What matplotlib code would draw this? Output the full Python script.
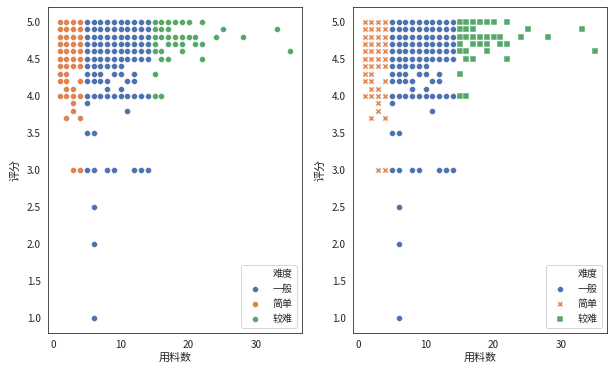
import matplotlib
matplotlib.use("Agg")
import matplotlib.pyplot as plt
from matplotlib.lines import Line2D
import seaborn as sns

# rating -> ingredient counts, one dict per difficulty level
easy_rows = {
    5.0: [1, 2, 3, 4], 4.9: [1, 2, 3, 4], 4.8: [1, 2, 3, 4], 4.7: [1, 2, 3, 4],
    4.6: [1, 2, 3, 4], 4.5: [1, 2, 3, 4], 4.4: [1, 2, 3, 4], 4.3: [1, 2],
    4.2: [1, 2, 4], 4.1: [2, 3], 4.0: [1, 2, 3, 4], 3.9: [3], 3.8: [3],
    3.7: [2, 4], 3.0: [3, 4],
}
normal_rows = {
    5.0: [5, 6, 7, 8, 9, 10, 11, 12, 13, 14],
    4.9: [5, 6, 7, 8, 9, 10, 11, 12, 13, 14],
    4.8: [5, 6, 7, 8, 9, 10, 11, 12, 13, 14],
    4.7: [5, 6, 7, 8, 9, 10, 11, 12, 13, 14],
    4.6: [5, 6, 7, 8, 9, 10, 11, 12, 13, 14],
    4.5: [5, 6, 7, 8, 9, 10, 11, 12, 13, 14],
    4.4: [5, 6, 7, 8, 9, 10],
    4.3: [5, 6, 7, 9, 10, 12],
    4.2: [5, 6, 7, 8, 11, 12],
    4.1: [8, 10],
    4.0: [5, 6, 7, 8, 9, 10, 11, 12, 13, 14],
    3.9: [5], 3.8: [11], 3.5: [5, 6],
    3.0: [5, 6, 8, 9, 12, 13, 14],
    2.5: [6], 2.0: [6], 1.0: [6],
}
hard_rows = {
    5.0: [15, 16, 17, 18, 19, 20, 22],
    4.9: [15, 16, 17, 25, 33],
    4.8: [15, 16, 17, 18, 19, 20, 21, 24, 28],
    4.7: [15, 17, 18, 19, 21, 22],
    4.6: [15, 16, 19, 35],
    4.5: [16, 17, 22],
    4.3: [15],
    4.0: [15, 16],
}

levels = ["一般", "简单", "较难"]
level_rows = [normal_rows, easy_rows, hard_rows]
colors = ["#4C72B0", "#DD8452", "#55A868"]
styled_markers = ["o", "X", "s"]


def flatten(rows):
    xs, ys = [], []
    for rating, counts in rows.items():
        for c in counts:
            xs.append(c)
            ys.append(rating)
    return xs, ys


sns.set_style("white")
plt.rcParams["font.family"] = ["Noto Sans CJK SC", "DejaVu Sans"]
plt.rcParams["axes.unicode_minus"] = False

fig = plt.figure(figsize=(613 / 72, 373 / 72), dpi=72)
ax1 = fig.add_axes([48 / 613, 40 / 373, 254 / 613, 326 / 373])
ax2 = fig.add_axes([353 / 613, 40 / 373, 254 / 613, 326 / 373])

for ax, markers in [(ax1, ["o", "o", "o"]), (ax2, styled_markers)]:
    handles = [Line2D([], [], linestyle="", marker="")]
    for rows, col, mk in zip(level_rows, colors, markers):
        xs, ys = flatten(rows)
        size = 30 if mk == "s" else 36
        ax.scatter(xs, ys, s=size, color=col, marker=mk, edgecolor="w", linewidth=0.48)
        handles.append(Line2D([], [], linestyle="", marker=mk, markersize=6,
                              markerfacecolor=col, markeredgecolor="w", markeredgewidth=0.48))
    ax.set_xlabel("用料数", fontsize=11, labelpad=3)
    ax.set_ylabel("评分", fontsize=11, labelpad=6)
    ax.set_xticks([0, 10, 20, 30])
    ax.set_yticks([1.0, 1.5, 2.0, 2.5, 3.0, 3.5, 4.0, 4.5, 5.0])
    ax.legend(handles, ["难度"] + levels, loc="lower right")

fig.savefig("out.png", dpi=72)
